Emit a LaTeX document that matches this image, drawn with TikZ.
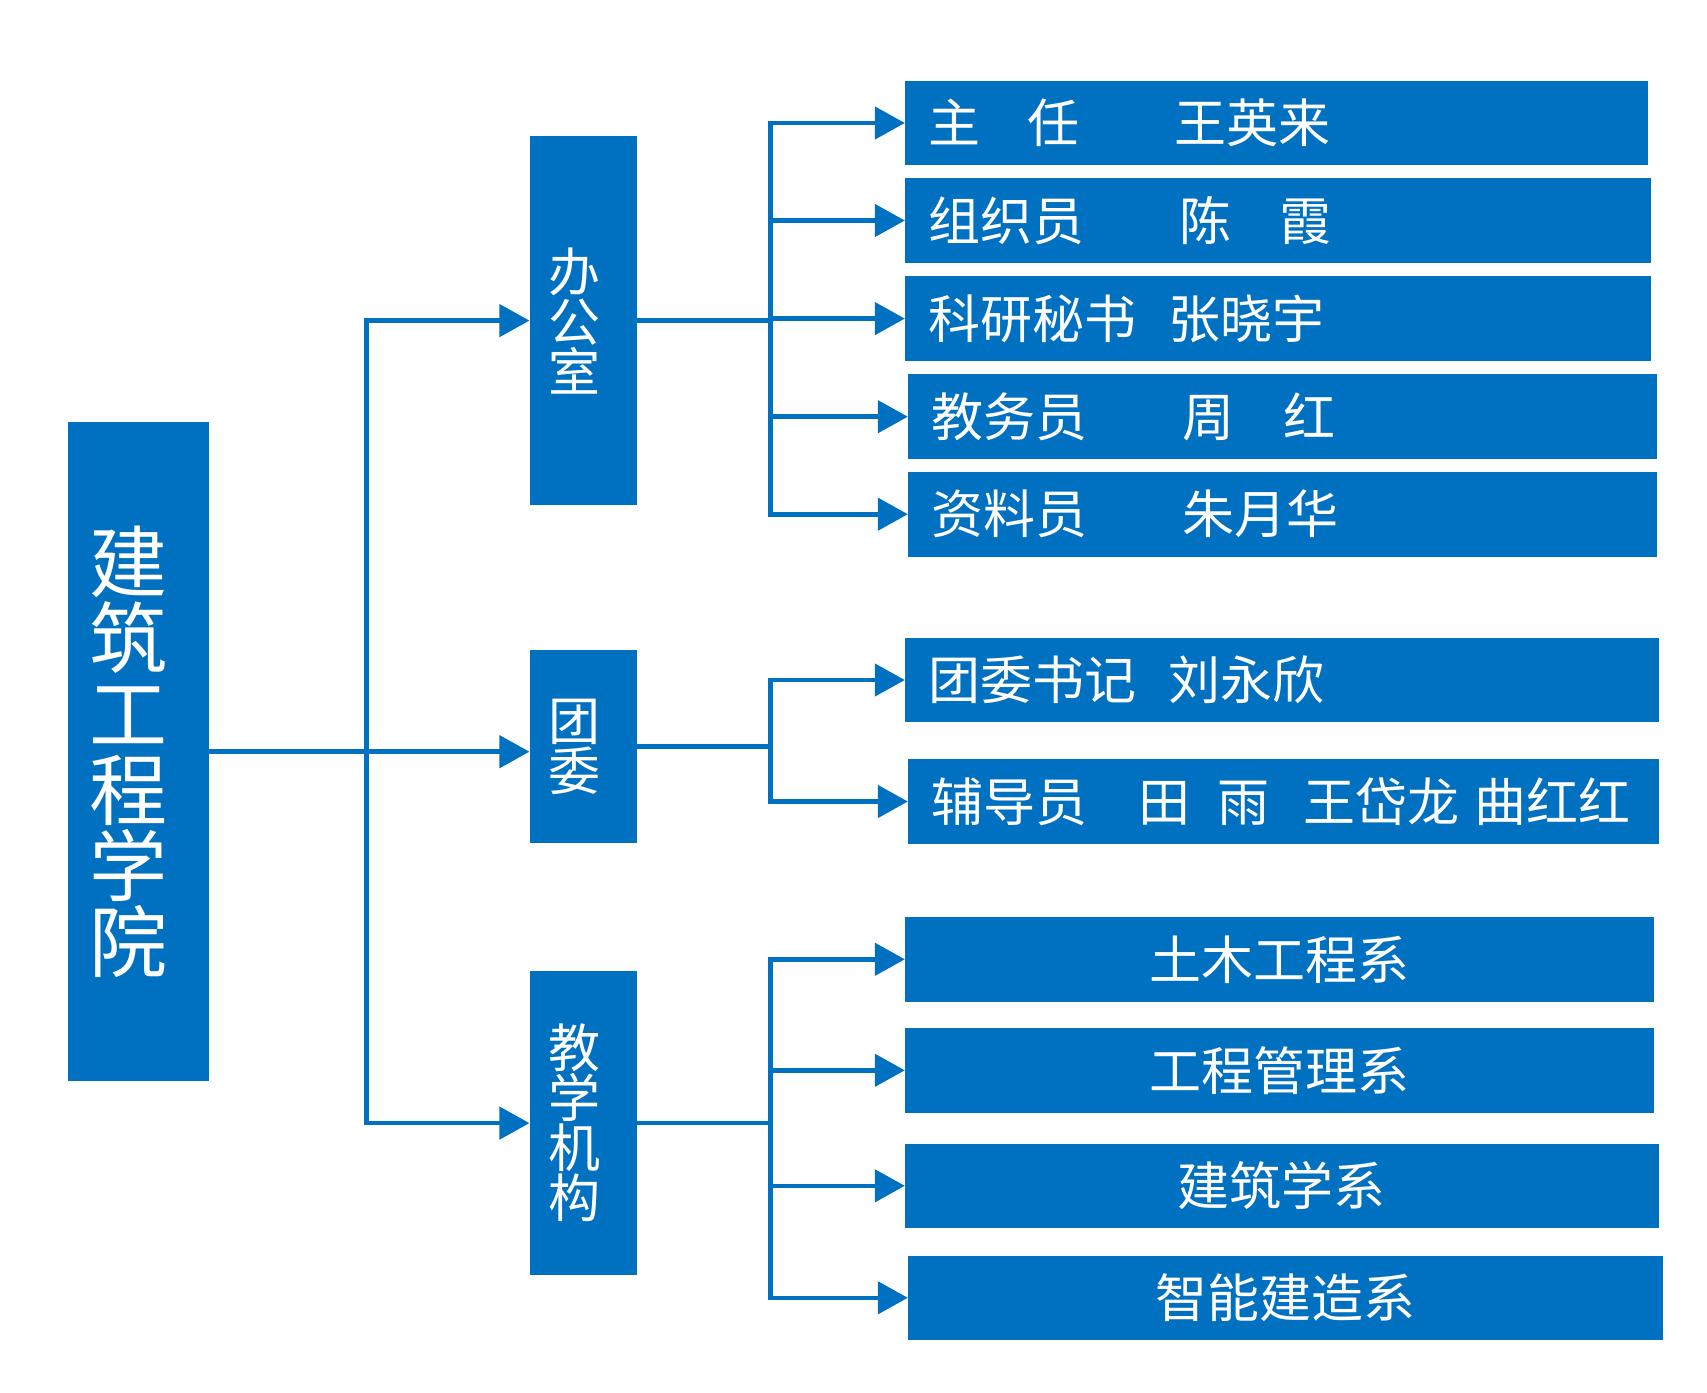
\documentclass[tikz,border=0pt]{standalone}
\usepackage{fontspec}
\newfontfamily\cjk{Noto Sans CJK SC}
\usetikzlibrary{arrows.meta}
\definecolor{myblue}{HTML}{0070C0}
\tikzset{
  box/.style={fill=myblue, inner sep=0pt, text=white},
  rowbox/.style={box, minimum height=84.6pt, inner xsep=23pt, align=left,
    font=\cjk\fontsize{52}{52}\selectfont},
  ctrbox/.style={box, minimum height=84.6pt, align=center,
    font=\cjk\fontsize{52}{52}\selectfont},
  vtext/.style={text=white, inner sep=0pt, align=center,
    font=\cjk\fontsize{52}{50}\selectfont},
  bigtext/.style={text=white, inner sep=0pt, align=center,
    font=\cjk\fontsize{78}{76}\selectfont},
  conn/.style={draw=myblue, line width=4.6pt, line join=miter},
  arr/.style={conn, -{Triangle[length=30pt,width=32pt]}},
}
\begin{document}
\begin{tikzpicture}[x=1pt,y=-1pt]
\useasboundingbox (0,0) rectangle (1707,1392);
% level 0 and 1 boxes
\node[box, minimum width=141.4pt, minimum height=659pt] (main) at (138.4,751.7) {};
\node[bigtext] (tmain) at ([xshift=-10pt]main.center) {建\\筑\\工\\程\\学\\院};
\node[box, minimum width=107.5pt, minimum height=368.4pt] (office) at (583.4,320.6) {};
\node[vtext] (toffice) at ([xshift=-9pt]office.center) {办\\公\\室};
\node[box, minimum width=107.5pt, minimum height=193.2pt] (tw) at (583.4,746.7) {};
\node[vtext] (ttw) at ([xshift=-9pt]tw.center) {团\\委};
\node[box, minimum width=107.5pt, minimum height=303.7pt] (jx) at (583.4,1123.1) {};
\node[vtext] (tjx) at ([xshift=-9pt]jx.center) {教\\学\\机\\构};
% right boxes
\node[rowbox, minimum width=742.7pt, text width=696.7pt] (r1) at (1276.4,123.0) {\mbox{主\hspace{47pt}任\hspace{95pt}王英来}};
\node[rowbox, minimum width=745.7pt, text width=699.7pt] (r2) at (1277.9,220.5) {\mbox{组织员\hspace{95pt}陈\hspace{48pt}霞}};
\node[rowbox, minimum width=745.7pt, text width=699.7pt] (r3) at (1277.9,318.6) {\mbox{科研秘书\hspace{32pt}张晓宇}};
\node[rowbox, minimum width=748.7pt, text width=702.7pt] (r4) at (1282.4,416.7) {\mbox{教务员\hspace{95pt}周\hspace{49pt}红}};
\node[rowbox, minimum width=748.7pt, text width=702.7pt] (r5) at (1282.4,514.2) {\mbox{资料员\hspace{95pt}朱月华}};
\node[rowbox, minimum width=753.7pt, text width=707.7pt] (r6) at (1281.9,680.0) {\mbox{团委书记\hspace{32pt}刘永欣}};
\node[rowbox, minimum width=750.7pt, text width=704.7pt] (r7) at (1283.4,801.5) {\mbox{辅导员\hspace{51pt}田\hspace{27pt}雨\hspace{34pt}王岱龙\hspace{15pt}曲红红}};
\node[ctrbox, minimum width=748.7pt] (r8) at (1279.4,959.3) {土木工程系};
\node[ctrbox, minimum width=748.7pt] (r9) at (1279.4,1070.3) {工程管理系};
\node[ctrbox, minimum width=753.7pt] (r10) at (1281.9,1185.8) {建筑学系};
\node[ctrbox, minimum width=754.7pt] (r11) at (1285.4,1297.8) {智能建造系};
% bus coordinates
\coordinate (b0) at (366.4,0);
\coordinate (b1) at (770.6,0);
\coordinate (b2) at (770.6,0);
\coordinate (b3) at (770.6,0);
% level 0 -> 1
\draw[arr] (main.east) -- (main.east -| b0) |- (office.west);
\draw[arr] (main.east) -- (main.east -| tw.west);
\draw[arr] (main.east) -- (main.east -| b0) |- (jx.west);
% office
\foreach \r in {r1,r2,r3,r4,r5}
  \draw[arr] (office.east) -- (office.east -| b1) |- (\r.west);
% tuanwei
\foreach \r in {r6,r7}
  \draw[arr] (tw.east) -- (tw.east -| b2) |- (\r.west);
% jiaoxue
\foreach \r in {r8,r9,r10,r11}
  \draw[arr] (jx.east) -- (jx.east -| b3) |- (\r.west);
\end{tikzpicture}
\end{document}
